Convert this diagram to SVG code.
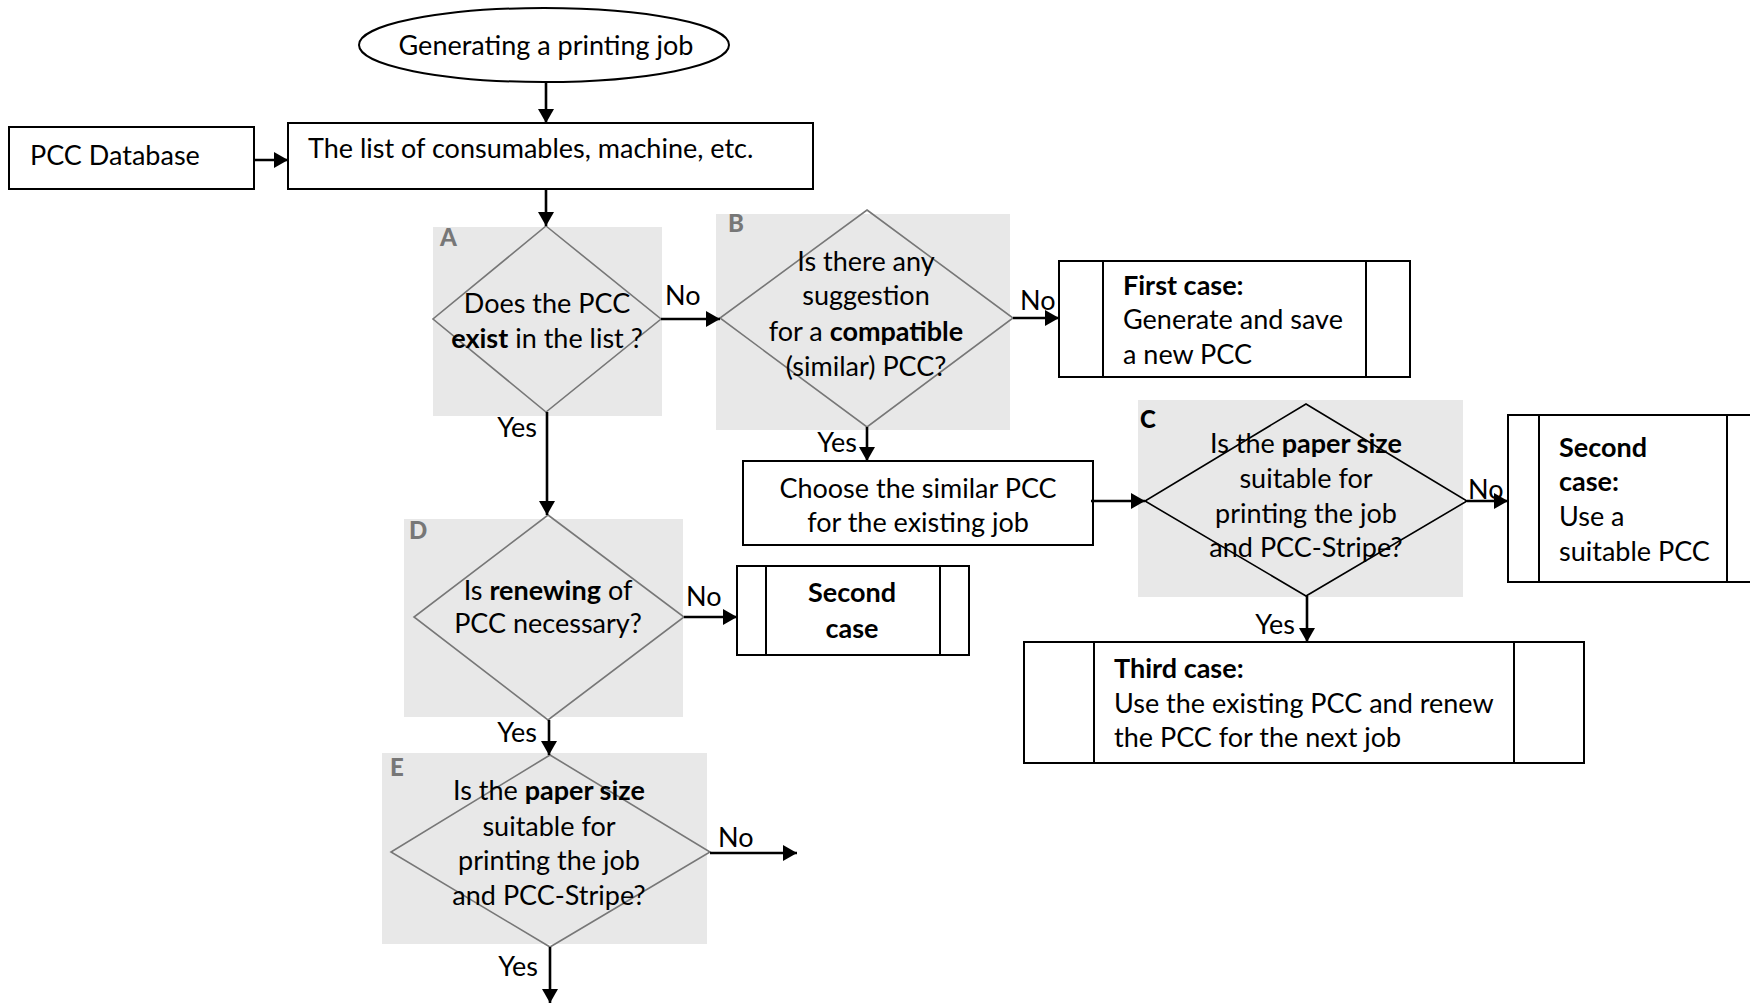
<svg xmlns="http://www.w3.org/2000/svg" width="1750" height="1005" viewBox="0 0 1750 1005">
  <style>
    text { font-family: Lato, "Liberation Sans", sans-serif; font-size: 27px; fill: #000; }
    .c { text-anchor: middle; }
    .e { text-anchor: end; }
    .b { font-weight: bold; }
    .tag { font-weight: 900; font-size: 24px; fill: #777; }
    .tagk { font-weight: 900; font-size: 24px; fill: #000; }
    .box { fill: #fff; stroke: #000; stroke-width: 2; }
    .sub { fill: none; stroke: #000; stroke-width: 2; }
    .zone { fill: #e8e8e8; stroke: none; }
    .dia { fill: none; stroke: #777; stroke-width: 1.6; }
    .diak { fill: none; stroke: #000; stroke-width: 1.6; }
    .wire { fill: none; stroke: #000; stroke-width: 2.6; marker-end: url(#head); }
  </style>
  <defs>
    <marker id="head" markerUnits="userSpaceOnUse" markerWidth="16" markerHeight="18" refX="14" refY="8" orient="auto">
      <path d="M0,0 L14,8 L0,16 Z" fill="#000"/>
    </marker>
  </defs>

  <rect width="1750" height="1005" fill="#fff"/>

  <!-- start -->
  <g id="start">
    <ellipse cx="544" cy="45" rx="185" ry="37" class="box"/>
    <text x="546" y="55" class="c">Generating a printing job</text>
  </g>

  <!-- sources -->
  <g id="pcc-database">
    <rect x="9" y="127" width="245" height="62" class="box"/>
    <text x="30" y="165">PCC Database</text>
  </g>
  <g id="list">
    <rect x="288" y="123" width="525" height="66" class="box"/>
    <text x="308" y="158">The list of consumables, machine, etc.</text>
  </g>

  <!-- decision A -->
  <g id="decision-a">
    <rect x="433" y="227" width="229" height="189" class="zone"/>
    <polygon points="546,226 661,319 546,412 433,319" class="dia"/>
    <text x="440" y="246" class="tag">A</text>
    <text x="547" y="313" class="c">Does the PCC</text>
    <text x="547" y="348" class="c"><tspan class="b">exist</tspan> in the list ?</text>
  </g>

  <!-- decision B -->
  <g id="decision-b">
    <rect x="716" y="214" width="294" height="216" class="zone"/>
    <polygon points="867,210 1013,318 867,427 720,318" class="dia"/>
    <text x="728" y="232" class="tag">B</text>
    <text x="866" y="271" class="c">Is there any</text>
    <text x="866" y="305" class="c">suggestion</text>
    <text x="866" y="341" class="c">for a <tspan class="b">compatible</tspan></text>
    <text x="866" y="376" class="c">(similar) PCC?</text>
  </g>

  <!-- first case -->
  <g id="first-case">
    <rect x="1059" y="261" width="351" height="116" class="box"/>
    <line x1="1103" y1="261" x2="1103" y2="377" class="sub"/>
    <line x1="1366" y1="261" x2="1366" y2="377" class="sub"/>
    <text x="1123" y="295" class="b">First case:</text>
    <text x="1123" y="329">Generate and save</text>
    <text x="1123" y="364">a new PCC</text>
  </g>

  <!-- choose similar -->
  <g id="choose-similar">
    <rect x="743" y="461" width="350" height="84" class="box"/>
    <text x="918" y="498" class="c">Choose the similar PCC</text>
    <text x="918" y="532" class="c">for the existing job</text>
  </g>

  <!-- decision C -->
  <g id="decision-c">
    <rect x="1138" y="400" width="325" height="197" class="zone"/>
    <polygon points="1306,404 1467,501 1306,596 1145,501" class="diak"/>
    <text x="1140" y="428" class="tagk">C</text>
    <text x="1306" y="453" class="c">Is the <tspan class="b">paper size</tspan></text>
    <text x="1306" y="488" class="c">suitable for</text>
    <text x="1306" y="523" class="c">printing the job</text>
    <text x="1306" y="557" class="c">and PCC-Stripe?</text>
  </g>

  <!-- second case (from C) -->
  <g id="second-case-c">
    <rect x="1508" y="415" width="260" height="167" class="box"/>
    <line x1="1539" y1="415" x2="1539" y2="582" class="sub"/>
    <line x1="1727" y1="415" x2="1727" y2="582" class="sub"/>
    <text x="1559" y="457" class="b">Second</text>
    <text x="1559" y="491" class="b">case:</text>
    <text x="1559" y="526">Use a</text>
    <text x="1559" y="561">suitable PCC</text>
  </g>

  <!-- third case -->
  <g id="third-case">
    <rect x="1024" y="642" width="560" height="121" class="box"/>
    <line x1="1094" y1="642" x2="1094" y2="763" class="sub"/>
    <line x1="1514" y1="642" x2="1514" y2="763" class="sub"/>
    <text x="1114" y="678" class="b">Third case:</text>
    <text x="1114" y="713">Use the existing PCC and renew</text>
    <text x="1114" y="747">the PCC for the next job</text>
  </g>

  <!-- decision D -->
  <g id="decision-d">
    <rect x="404" y="519" width="279" height="198" class="zone"/>
    <polygon points="548,515 684,617 548,720 414,617" class="dia"/>
    <text x="409" y="539" class="tag">D</text>
    <text x="548" y="600" class="c">Is <tspan class="b">renewing</tspan> of</text>
    <text x="548" y="633" class="c">PCC necessary?</text>
  </g>

  <!-- second case (from D) -->
  <g id="second-case-d">
    <rect x="737" y="566" width="232" height="89" class="box"/>
    <line x1="766" y1="566" x2="766" y2="655" class="sub"/>
    <line x1="940" y1="566" x2="940" y2="655" class="sub"/>
    <text x="852" y="602" class="c b">Second</text>
    <text x="852" y="638" class="c b">case</text>
  </g>

  <!-- decision E -->
  <g id="decision-e">
    <rect x="382" y="753" width="325" height="191" class="zone"/>
    <polygon points="550,755 710,852 550,947 391,852" class="dia"/>
    <text x="390" y="776" class="tag">E</text>
    <text x="549" y="800" class="c">Is the <tspan class="b">paper size</tspan></text>
    <text x="549" y="836" class="c">suitable for</text>
    <text x="549" y="870" class="c">printing the job</text>
    <text x="549" y="905" class="c">and PCC-Stripe?</text>
  </g>

  <!-- connectors -->
  <g id="connectors">
    <line x1="546" y1="82" x2="546" y2="123" class="wire"/>
    <line x1="254" y1="160" x2="288" y2="160" class="wire"/>
    <line x1="546" y1="189" x2="546" y2="226" class="wire"/>
    <line x1="661" y1="319" x2="720" y2="319" class="wire"/>
    <line x1="1013" y1="318" x2="1059" y2="318" class="wire"/>
    <line x1="547" y1="412" x2="547" y2="515" class="wire"/>
    <line x1="867" y1="427" x2="867" y2="461" class="wire"/>
    <line x1="1091" y1="501" x2="1145" y2="501" class="wire"/>
    <line x1="1467" y1="501" x2="1508" y2="501" class="wire"/>
    <line x1="1307" y1="596" x2="1307" y2="642" class="wire"/>
    <line x1="684" y1="617" x2="737" y2="617" class="wire"/>
    <line x1="549" y1="720" x2="549" y2="755" class="wire"/>
    <line x1="710" y1="853" x2="797" y2="853" class="wire"/>
    <line x1="550" y1="947" x2="550" y2="1003" class="wire"/>

    <text x="665" y="305">No</text>
    <text x="1020" y="310">No</text>
    <text x="1468" y="499">No</text>
    <text x="686" y="606">No</text>
    <text x="718" y="847">No</text>
    <text x="537" y="437" class="e">Yes</text>
    <text x="857" y="452" class="e">Yes</text>
    <text x="1295" y="634" class="e">Yes</text>
    <text x="537" y="742" class="e">Yes</text>
    <text x="538" y="976" class="e">Yes</text>
  </g>
</svg>
